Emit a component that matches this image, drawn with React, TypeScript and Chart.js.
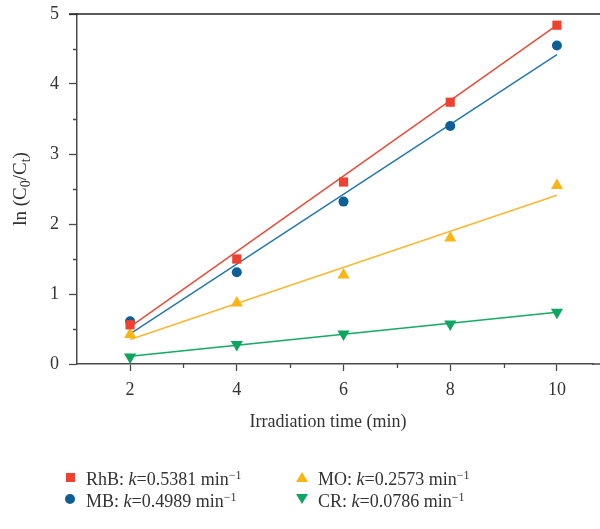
import React, { useEffect, useRef } from "react";
import { Chart, registerables } from "chart.js";

Chart.register(...registerables);

const times = [2, 4, 6, 8, 10];
const rhb = [0.56, 1.5, 2.6, 3.74, 4.84];
const mb = [0.61, 1.31, 2.32, 3.4, 4.55];
const mo = [0.42, 0.87, 1.27, 1.8, 2.55];
const cr = [0.1, 0.28, 0.43, 0.57, 0.74];

const fitX = [2, 10];
const rhbFit = [0.53, 4.84];
const mbFit = [0.43, 4.42];
const moFit = [0.35, 2.41];
const crFit = [0.11, 0.74];

const xTicks = [2, 4, 6, 8, 10];
const xMinor = [3, 5, 7, 9];
const yMinor = [0.5, 1.5, 2.5, 3.5, 4.5];

const xTitle = "Irradiation time (min)";
const labels = ["RhB", "MB", "MO", "CR"];
const rates = ["0.5381", "0.4989", "0.2573", "0.0786"];

const RED = "#EE4130";
const RED_L = "#EE4B35";
const BLUE = "#0E5F96";
const BLUE_L = "#2477B0";
const YEL = "#FBB515";
const YEL_L = "#FBB731";
const GRN = "#0DA55F";
const GRN_L = "#14AB64";

const FONT = "'Liberation Serif', 'Times New Roman', serif";
const AXIS = "#4a4a4a";

const pts = (ys: number[]) => times.map((t, i) => ({ x: t, y: ys[i] }));
const fit = (ys: number[]) => fitX.map((t, i) => ({ x: t, y: ys[i] }));

const decorPlugin = {
  id: "decor",
  afterDraw(chart: any) {
    const ctx = chart.ctx;
    const xs = chart.scales.x;
    const ys = chart.scales.y;
    const area = chart.chartArea;
    ctx.save();
    // top border
    ctx.strokeStyle = "#222";
    ctx.lineWidth = 1.5;
    ctx.beginPath();
    ctx.moveTo(area.left - 8, area.top);
    ctx.lineTo(chart.width, area.top);
    ctx.stroke();
    // bottom axis continues to the edge of the picture
    ctx.strokeStyle = AXIS;
    ctx.beginPath();
    ctx.moveTo(area.right - 1, area.bottom);
    ctx.lineTo(chart.width, area.bottom);
    ctx.stroke();
    // minor ticks
    ctx.lineWidth = 1.3;
    ctx.beginPath();
    xMinor.forEach((v) => {
      const px = Math.round(xs.getPixelForValue(v)) + 0.5;
      ctx.moveTo(px, area.bottom);
      ctx.lineTo(px, area.bottom + 4);
    });
    yMinor.forEach((v) => {
      const py = Math.round(ys.getPixelForValue(v)) + 0.5;
      ctx.moveTo(area.left, py);
      ctx.lineTo(area.left - 4, py);
    });
    ctx.stroke();
    // x title
    ctx.fillStyle = "#333";
    ctx.font = "18px " + FONT;
    ctx.textAlign = "center";
    ctx.textBaseline = "alphabetic";
    ctx.fillText(xTitle, 328, 427);
    // y title with subscripts
    const parts: [string, boolean][] = [
      ["ln (C", false],
      ["0", true],
      ["/C", false],
      ["t", true],
      [")", false],
    ];
    const main = "19px " + FONT;
    const sub = "14px " + FONT;
    let total = 0;
    parts.forEach(([t, s]) => {
      ctx.font = s ? sub : main;
      total += ctx.measureText(t).width;
    });
    ctx.translate(26, 189);
    ctx.rotate(-Math.PI / 2);
    ctx.textAlign = "left";
    let cx = -total / 2;
    parts.forEach(([t, s]) => {
      ctx.font = s ? sub : main;
      ctx.fillText(t, cx, s ? 4 : 0);
      cx += ctx.measureText(t).width;
    });
    ctx.restore();
  },
};

function LegendItem({ idx, left, top }: { idx: number; left: number; top: number }) {
  const marker = () => {
    if (idx === 0)
      return <div style={{ width: 9, height: 9, background: RED }} />;
    if (idx === 1)
      return <div style={{ width: 10, height: 10, borderRadius: "50%", background: BLUE }} />;
    if (idx === 2)
      return (
        <div
          style={{
            width: 0,
            height: 0,
            borderLeft: "6px solid transparent",
            borderRight: "6px solid transparent",
            borderBottom: `10px solid ${YEL}`,
          }}
        />
      );
    return (
      <div
        style={{
          width: 0,
          height: 0,
          borderLeft: "6px solid transparent",
          borderRight: "6px solid transparent",
          borderTop: `10px solid ${GRN}`,
        }}
      />
    );
  };
  return (
    <div
      style={{
        position: "absolute",
        left,
        top,
        display: "flex",
        alignItems: "center",
        fontFamily: FONT,
        fontSize: 18,
        color: "#333",
        whiteSpace: "nowrap",
        lineHeight: "20px",
      }}
    >
      <div style={{ width: 12, display: "flex", justifyContent: "center", marginRight: 10 }}>{marker()}</div>
      <span>
        {labels[idx]}: <i>k</i>={rates[idx]} min
        <sup style={{ fontSize: 12, verticalAlign: "6px" }}>−1</sup>
      </span>
    </div>
  );
}

export default function App() {
  const ref = useRef<HTMLCanvasElement>(null);
  useEffect(() => {
    if (!ref.current) return;
    const scatter = (label: string, ys: number[], color: string, style: any, radius: number, rotation = 0) => ({
      type: "scatter" as const,
      label,
      data: pts(ys),
      showLine: false,
      pointStyle: style,
      pointRadius: radius,
      pointRotation: rotation,
      backgroundColor: color,
      borderColor: color,
      borderWidth: 0,
      order: 1,
    });
    const line = (label: string, ys: number[], color: string) => ({
      type: "line" as const,
      label,
      data: fit(ys),
      borderColor: color,
      borderWidth: 1.5,
      pointRadius: 0,
      fill: false,
      order: 2,
    });
    const chart = new Chart(ref.current, {
      type: "scatter",
      data: {
        datasets: [
          line("RhB fit", rhbFit, RED_L),
          line("MB fit", mbFit, BLUE_L),
          line("MO fit", moFit, YEL_L),
          line("CR fit", crFit, GRN_L),
          scatter("RhB", rhb, RED, "rect", 6.5),
          scatter("MB", mb, BLUE, "circle", 5),
          scatter("MO", mo, YEL, "triangle", 7),
          scatter("CR", cr, GRN, "triangle", 7, 180),
        ] as any,
      },
      options: {
        animation: false,
        responsive: false,
        layout: { padding: { left: 0, right: 0, top: 14, bottom: 100 } },
        plugins: { legend: { display: false }, tooltip: { enabled: false } },
        scales: {
          x: {
            type: "linear",
            min: 1.005,
            max: 10.676,
            afterBuildTicks: (s: any) => {
              s.ticks = xTicks.map((v) => ({ value: v }));
            },
            afterFit: (s: any) => {
              s.height = 65;
              s.paddingLeft = 0;
              s.paddingRight = 0;
            },
            grid: { display: true, drawOnChartArea: false, tickLength: 7, color: AXIS, tickWidth: 1.3 },
            border: { display: true, color: AXIS, width: 1.5 },
            ticks: { font: { family: FONT, size: 18 }, color: "#333", padding: 8, maxRotation: 0 },
            title: { display: false },
          },
          y: {
            type: "linear",
            min: 0,
            max: 5,
            ticks: { stepSize: 1, font: { family: FONT, size: 18 }, color: "#333", padding: 10 },
            afterFit: (s: any) => {
              s.width = 77;
              s.paddingTop = 0;
              s.paddingBottom = 0;
            },
            grid: { display: true, drawOnChartArea: false, tickLength: 8, color: AXIS, tickWidth: 1.3 },
            border: { display: true, color: AXIS, width: 1.5 },
          },
        },
      },
      plugins: [decorPlugin],
    });
    return () => chart.destroy();
  }, []);
  return (
    <div style={{ position: "absolute", left: 0, top: 0, width: 600, height: 529, background: "#fff" }}>
      <canvas ref={ref} width={600} height={529} style={{ position: "absolute", left: 0, top: 0 }} />
      <LegendItem idx={0} left={64} top={465} />
      <LegendItem idx={2} left={296} top={465} />
      <LegendItem idx={1} left={64} top={487} />
      <LegendItem idx={3} left={296} top={487} />
    </div>
  );
}
